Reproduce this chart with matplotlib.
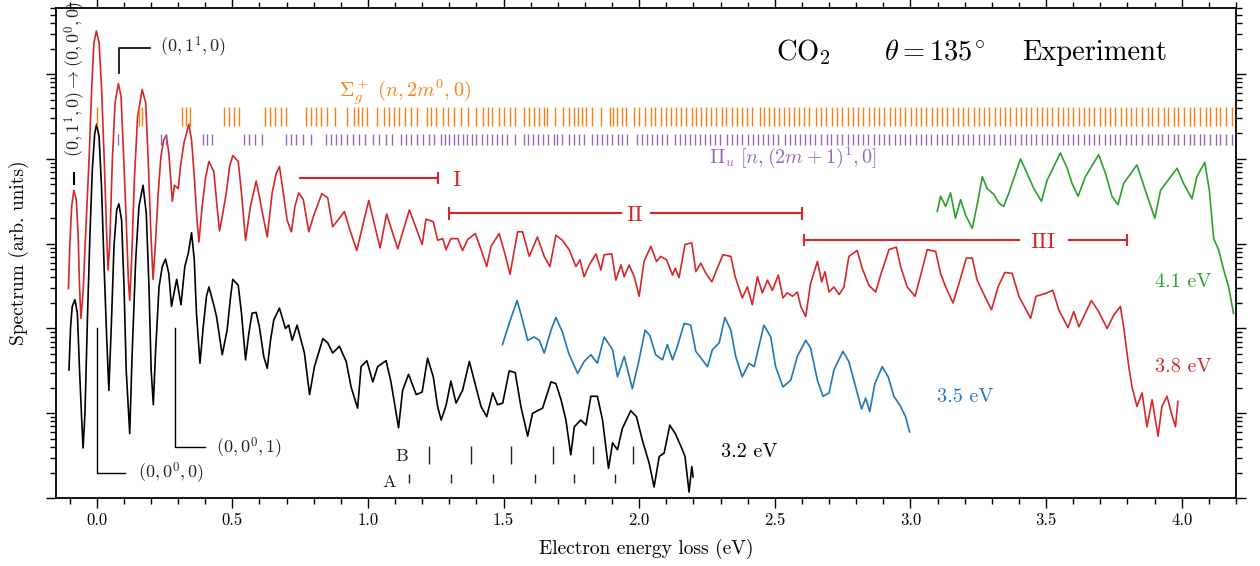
import numpy as np
import matplotlib.pyplot as plt
from matplotlib.ticker import MultipleLocator, LogLocator, NullFormatter

plt.rcParams['font.family'] = 'serif'
plt.rcParams['font.serif'] = ['cmr10']
plt.rcParams['mathtext.fontset'] = 'cm'
plt.rcParams['axes.formatter.use_mathtext'] = True

# spectra: energy loss (eV) and log10 of the spectrum (arb. units)
e32 = [-0.102, -0.096, -0.090, -0.080, -0.071, -0.063, -0.055, -0.050, -0.043, -0.034,
       -0.025, -0.016, -0.007, 0.000, 0.009, 0.018, 0.028, 0.037, 0.045, 0.054,
       0.064, 0.074, 0.082, 0.092, 0.101, 0.109, 0.122, 0.131, 0.144, 0.156,
       0.171, 0.183, 0.193, 0.201, 0.209, 0.217, 0.230, 0.242, 0.254, 0.266,
       0.276, 0.295, 0.311, 0.325, 0.338, 0.350, 0.360, 0.368, 0.381, 0.393,
       0.405, 0.414, 0.430, 0.442, 0.463, 0.481, 0.494, 0.502, 0.522, 0.534,
       0.549, 0.561, 0.573, 0.588, 0.600, 0.616, 0.629, 0.641, 0.653, 0.674,
       0.696, 0.708, 0.721, 0.739,
       0.766, 0.785, 0.803, 0.834, 0.852, 0.870, 0.895, 0.920, 0.938, 0.962,
       0.975, 0.996, 1.018, 1.036, 1.067, 1.085, 1.113, 1.128, 1.150, 1.178,
       1.200, 1.220, 1.241, 1.257, 1.270, 1.288, 1.306, 1.325, 1.349, 1.374,
       1.392, 1.417, 1.438, 1.460, 1.478, 1.497, 1.521, 1.543, 1.564, 1.589,
       1.607, 1.644, 1.675, 1.693, 1.712, 1.730, 1.748, 1.761, 1.785, 1.804,
       1.822, 1.846, 1.865, 1.887, 1.902, 1.920, 1.938, 1.969, 1.990, 2.012,
       2.037, 2.055, 2.074, 2.092, 2.113, 2.133, 2.154, 2.169, 2.184, 2.194,
       2.199]
s32 = [1.51, 2.02, 2.26, 2.34, 2.18, 1.51, 0.92, 0.59, 1.00, 2.10,
       3.08, 3.87, 4.30, 4.41, 4.26, 3.67, 2.69, 1.90, 1.27, 2.02,
       2.97, 3.40, 3.47, 3.28, 2.49, 1.51, 0.76, 1.71, 2.81, 3.44,
       3.69, 3.36, 2.49, 1.51, 1.10, 1.71, 2.49, 2.73, 2.82, 2.65,
       2.26, 2.58, 2.28, 2.73, 2.89, 3.13, 2.81, 2.18, 1.59, 2.02,
       2.38, 2.49, 2.30, 2.14, 1.69, 1.98, 2.38, 2.58, 2.51, 2.18,
       1.63, 1.94, 2.18, 2.19, 2.02, 1.67, 1.53, 1.86, 2.10, 2.24,
       2.00, 2.04, 1.86, 2.04,
       1.71, 1.22, 1.55, 1.88, 1.83, 1.71, 1.79, 1.61, 1.31, 1.06,
       1.55, 1.62, 1.37, 1.55, 1.62, 1.37, 0.83, 1.27, 1.46, 1.22,
       1.25, 1.65, 1.43, 1.08, 0.92, 1.09, 1.38, 1.12, 1.27, 1.61,
       1.39, 1.08, 0.96, 1.24, 1.10, 1.12, 1.50, 1.48, 1.08, 0.73,
       1.00, 1.06, 1.37, 1.35, 1.16, 0.92, 0.51, 0.84, 0.92, 0.86,
       1.20, 1.20, 0.92, 0.35, 0.65, 0.57, 0.82, 1.03, 0.96, 0.68,
       0.41, 0.13, 0.49, 0.53, 0.86, 0.76, 0.61, 0.49, 0.07, 0.37,
       0.25]

e35 = [1.496, 1.521, 1.550, 1.570, 1.589, 1.613, 1.632, 1.650, 1.675, 1.693,
       1.717, 1.740, 1.773, 1.797, 1.822, 1.846, 1.871, 1.902, 1.920, 1.945,
       1.975, 1.997, 2.022, 2.039, 2.061, 2.086, 2.104, 2.123, 2.141, 2.166,
       2.190, 2.209, 2.233, 2.252, 2.270, 2.295, 2.316, 2.338, 2.356, 2.380,
       2.405, 2.424, 2.460, 2.485, 2.503, 2.530, 2.559, 2.583, 2.614, 2.632,
       2.657, 2.678, 2.700, 2.718, 2.751, 2.773, 2.798, 2.820, 2.835, 2.850,
       2.869, 2.896, 2.918, 2.939, 2.964, 2.982, 2.997]
s35 = [1.81, 2.06, 2.33, 2.10, 1.86, 1.90, 1.86, 1.71, 1.98, 2.13,
       1.96, 1.71, 1.47, 1.61, 1.69, 1.59, 1.90, 1.75, 1.43, 1.67,
       1.29, 1.59, 1.98, 1.92, 1.69, 1.63, 1.81, 1.63, 1.79, 2.06,
       2.04, 1.73, 1.63, 1.55, 1.75, 1.83, 2.13, 1.98, 1.67, 1.43,
       1.59, 1.55, 2.04, 1.90, 1.55, 1.31, 1.39, 1.67, 1.86, 1.77,
       1.39, 1.20, 1.24, 1.51, 1.73, 1.61, 1.31, 1.05, 1.18, 1.02,
       1.35, 1.55, 1.43, 1.20, 1.08, 0.96, 0.78]

e38 = [-0.104, -0.099, -0.092, -0.084, -0.075, -0.068, -0.063, -0.058, -0.050, -0.041,
       -0.028, -0.018, -0.010, -0.001, 0.009, 0.018, 0.028, 0.036, 0.042, 0.048,
       0.058, 0.068, 0.080, 0.090, 0.099, 0.109, 0.117, 0.122, 0.129, 0.139,
       0.151, 0.168, 0.181, 0.190, 0.200, 0.208, 0.217, 0.227, 0.237, 0.247,
       0.257, 0.266, 0.274, 0.279, 0.287, 0.301, 0.309, 0.322, 0.340, 0.350,
       0.360, 0.370, 0.377, 0.389, 0.402, 0.414, 0.432, 0.444, 0.453, 0.463,
       0.478, 0.490, 0.502, 0.522, 0.534, 0.549, 0.567, 0.588, 0.600, 0.610,
       0.629, 0.647, 0.662, 0.674, 0.690, 0.702, 0.718, 0.731, 0.745,
       0.762, 0.782, 0.799, 0.830, 0.852, 0.870, 0.895, 0.913, 0.934,
       0.959, 1.003, 1.045, 1.069, 1.110, 1.153, 1.178, 1.200, 1.214, 1.241,
       1.257, 1.276, 1.288, 1.306, 1.331, 1.349, 1.368, 1.396, 1.417, 1.438,
       1.454, 1.484, 1.506, 1.524, 1.552, 1.570, 1.595, 1.625, 1.650, 1.671,
       1.693, 1.717, 1.742, 1.767, 1.782, 1.797, 1.816, 1.841, 1.859, 1.871,
       1.899, 1.914, 1.933, 1.945, 1.963, 1.982, 2.000, 2.018, 2.043, 2.064,
       2.080, 2.101, 2.123, 2.133, 2.147, 2.169, 2.194, 2.209, 2.227, 2.246,
       2.268, 2.288, 2.309, 2.338, 2.354, 2.380, 2.399, 2.417, 2.436, 2.454,
       2.473, 2.491, 2.513, 2.530, 2.546, 2.565, 2.583, 2.596, 2.614, 2.632,
       2.657, 2.673, 2.685, 2.700, 2.718, 2.737, 2.755, 2.773, 2.804, 2.822,
       2.847, 2.872, 2.890, 2.921, 2.948, 2.964, 2.988, 3.017, 3.038, 3.062,
       3.093, 3.111, 3.130, 3.157, 3.179, 3.206, 3.228, 3.246, 3.277, 3.299,
       3.323, 3.348, 3.375, 3.400, 3.443, 3.463, 3.495, 3.525, 3.547, 3.581,
       3.602, 3.621, 3.667, 3.694, 3.725, 3.750, 3.774, 3.786, 3.805, 3.817,
       3.835, 3.854, 3.872, 3.891, 3.913, 3.927, 3.946, 3.962, 3.977, 3.986]
s38 = [2.47, 2.97, 3.44, 3.63, 3.52, 3.08, 2.49, 2.12, 2.42, 3.08,
       3.99, 4.85, 5.37, 5.51, 5.37, 4.85, 3.99, 3.20, 2.69, 2.97,
       3.99, 4.66, 4.89, 4.74, 4.07, 3.28, 2.57, 2.33, 2.81, 3.75,
       4.50, 4.82, 4.66, 3.99, 3.12, 2.58, 3.01, 3.60, 4.03, 4.22,
       4.28, 4.07, 3.71, 3.50, 3.69, 3.65, 3.91, 4.19, 4.41, 4.22,
       3.79, 3.28, 3.02, 3.44, 3.79, 3.97, 3.85, 3.44, 3.15, 3.32,
       3.60, 3.91, 4.04, 3.97, 3.60, 3.04, 3.44, 3.74, 3.56, 3.38,
       3.08, 3.60, 3.83, 3.91, 3.56, 3.28, 3.14, 3.44, 3.60,
       3.52, 3.14, 3.32, 3.59, 3.54, 3.20, 3.30, 3.38, 3.16,
       2.92, 3.51, 2.95, 3.35, 2.94, 3.40, 3.18, 2.99, 3.29, 3.26,
       3.04, 3.06, 2.93, 3.06, 3.06, 2.92, 3.05, 3.12, 2.93, 2.73,
       2.97, 3.12, 2.87, 2.64, 3.14, 3.14, 2.85, 3.08, 2.85, 2.73,
       3.10, 3.04, 2.93, 2.73, 2.81, 2.61, 2.75, 2.88, 2.69, 2.87,
       2.88, 2.57, 2.75, 2.61, 2.75, 2.61, 2.38, 2.79, 2.97, 2.79,
       2.85, 2.81, 2.63, 2.71, 2.60, 2.99, 3.01, 2.67, 2.77, 2.65,
       2.55, 2.71, 2.87, 2.85, 2.61, 2.36, 2.49, 2.28, 2.61, 2.42,
       2.57, 2.45, 2.63, 2.36, 2.42, 2.38, 2.43, 2.26, 2.14, 2.53,
       2.79, 2.55, 2.67, 2.43, 2.49, 2.40, 2.49, 2.85, 2.92, 2.71,
       2.51, 2.43, 2.63, 2.93, 2.96, 2.73, 2.49, 2.38, 2.63, 2.93,
       2.91, 2.65, 2.49, 2.30, 2.53, 2.83, 2.83, 2.57, 2.36, 2.22,
       2.49, 2.66, 2.65, 2.38, 2.12, 2.38, 2.41, 2.45, 2.22, 2.01,
       2.20, 2.02, 2.33, 2.20, 2.00, 2.16, 2.26, 2.02, 1.55, 1.31,
       1.08, 1.24, 0.84, 1.16, 0.73, 1.08, 1.20, 1.00, 0.84, 1.14]

e41 = [3.099, 3.111, 3.130, 3.148, 3.166, 3.185, 3.203, 3.228, 3.246, 3.265,
       3.283, 3.308, 3.326, 3.344, 3.363, 3.406, 3.430, 3.455, 3.483, 3.504,
       3.553, 3.578, 3.596, 3.618, 3.645, 3.694, 3.719, 3.743, 3.765, 3.786,
       3.835, 3.866, 3.901, 3.922, 3.983, 4.007, 4.038, 4.056, 4.085, 4.102,
       4.118, 4.136, 4.155, 4.173, 4.191]
s41 = [3.38, 3.56, 3.44, 3.60, 3.30, 3.52, 3.34, 3.18, 3.46, 3.79,
       3.65, 3.58, 3.48, 3.44, 3.60, 4.00, 3.83, 3.65, 3.50, 3.75,
       4.07, 3.89, 3.71, 3.56, 3.79, 4.05, 3.83, 3.56, 3.46, 3.71,
       3.93, 3.63, 3.30, 3.63, 3.89, 3.71, 3.53, 3.79, 3.96, 3.63,
       3.06, 2.93, 2.69, 2.49, 2.18]

# vibrational levels (eV)
sigma_levels = [0.000, 0.155, 0.168, 0.316, 0.330, 0.346, 0.469, 0.487, 0.506, 0.524,
                0.620, 0.638, 0.657, 0.678, 0.699, 0.772, 0.790, 0.809, 0.827, 0.848,
                0.880, 0.922, 0.947, 0.963, 0.979, 0.996, 1.033, 1.061, 1.077, 1.098,
                1.116, 1.138, 1.159, 1.180, 1.217, 1.233, 1.251, 1.276, 1.294, 1.319,
                1.343, 1.368, 1.398, 1.425, 1.441, 1.459, 1.482, 1.503, 1.524, 1.542,
                1.574, 1.595, 1.613, 1.629, 1.650, 1.662, 1.690, 1.720, 1.742, 1.760,
                1.776, 1.791, 1.803, 1.825, 1.859, 1.892, 1.904, 1.920, 1.936, 1.953,
                1.981, 1.999, 2.022, 2.042, 2.058, 2.080, 2.098, 2.116, 2.135, 2.153,
                2.172, 2.196, 2.209, 2.227, 2.245, 2.264, 2.282, 2.304, 2.319, 2.344,
                2.362, 2.380, 2.399, 2.417, 2.444, 2.460, 2.479, 2.497, 2.515, 2.534,
                2.552, 2.571, 2.589, 2.607, 2.626, 2.651, 2.669, 2.687, 2.712, 2.730,
                2.748, 2.771, 2.790, 2.808, 2.826, 2.848, 2.866, 2.885, 2.903, 2.925,
                2.944, 2.962, 2.981, 3.003, 3.021, 3.040, 3.058, 3.081, 3.099, 3.117,
                3.136, 3.158, 3.176, 3.195, 3.213, 3.236, 3.254, 3.272, 3.291, 3.313,
                3.331, 3.350, 3.368, 3.390, 3.409, 3.427, 3.446, 3.468, 3.486, 3.505,
                3.523, 3.545, 3.564, 3.582, 3.601, 3.623, 3.641, 3.660, 3.678, 3.700,
                3.719, 3.737, 3.756, 3.778, 3.796, 3.815, 3.833, 3.855, 3.874, 3.892,
                3.911, 3.933, 3.951, 3.970, 3.988, 4.010, 4.029, 4.047, 4.066, 4.088,
                4.106, 4.125, 4.143, 4.165, 4.184]
pi_levels = [0.080, 0.239, 0.254, 0.392, 0.408, 0.425, 0.545, 0.563, 0.582, 0.610,
             0.699, 0.717, 0.736, 0.760, 0.791, 0.846, 0.865, 0.883, 0.902, 0.922,
             0.944, 0.966, 0.991, 1.018, 1.042, 1.067, 1.089, 1.122, 1.140, 1.159,
             1.180, 1.202, 1.227, 1.245, 1.270, 1.284, 1.299, 1.317, 1.333, 1.350,
             1.366, 1.384, 1.399, 1.421, 1.440, 1.458, 1.477, 1.495, 1.514, 1.544,
             1.575, 1.591, 1.608, 1.628, 1.645, 1.664, 1.685, 1.697, 1.716, 1.740,
             1.759, 1.777, 1.796, 1.826, 1.845, 1.863, 1.882, 1.900, 1.922, 1.937,
             1.955, 1.992, 2.010, 2.029, 2.047, 2.066, 2.084, 2.102, 2.133, 2.151,
             2.170, 2.188, 2.206, 2.225, 2.243, 2.262, 2.280, 2.298, 2.323, 2.341,
             2.360, 2.378, 2.400, 2.421, 2.439, 2.458, 2.476, 2.494, 2.513, 2.537,
             2.556, 2.574, 2.593, 2.611, 2.630, 2.648, 2.672, 2.691, 2.709, 2.728,
             2.746, 2.770, 2.788, 2.807, 2.825, 2.844, 2.866, 2.884, 2.903, 2.921,
             2.944, 2.962, 2.980, 2.999, 3.021, 3.040, 3.058, 3.077, 3.099, 3.117,
             3.136, 3.154, 3.176, 3.195, 3.213, 3.232, 3.254, 3.272, 3.291, 3.309,
             3.331, 3.350, 3.368, 3.387, 3.409, 3.427, 3.446, 3.464, 3.486, 3.505,
             3.523, 3.542, 3.564, 3.582, 3.601, 3.619, 3.641, 3.660, 3.678, 3.697,
             3.719, 3.737, 3.756, 3.774, 3.796, 3.815, 3.833, 3.852, 3.874, 3.892,
             3.911, 3.929, 3.951, 3.970, 3.988, 4.007, 4.029, 4.047, 4.066, 4.084,
             4.106, 4.125, 4.143, 4.162, 4.184]
series_a = [1.153, 1.308, 1.462, 1.617, 1.761, 1.912]
series_b = [1.227, 1.381, 1.529, 1.683, 1.831, 1.978]

red = '#d62728'
blue = '#1f77b4'
green = '#2ca02c'
orange = '#ff7f0e'
purple = '#9467bd'
grey = '#222222'


def L(d):
    return 10.0 ** np.asarray(d)


fig = plt.figure(figsize=(12.6, 5.66), dpi=100)
ax = fig.add_axes([0.0444, 0.1201, 0.9365, 0.8657])

ax.plot(e32, L(s32), color='black', lw=1.2)
ax.plot(e35, L(s35), color=blue, lw=1.2)
ax.plot(e38, L(s38), color=red, lw=1.2)
ax.plot(e41, L(s41), color=green, lw=1.2)

# level combs
ax.vlines(sigma_levels, L(4.39), L(4.61), color=orange, lw=1.0)
ax.vlines(pi_levels, L(4.165), L(4.29), color=purple, lw=1.0)
ax.text(0.895, L(4.79), r'$\Sigma_g^+\ (n, 2m^0, 0)$', color=orange, fontsize=14.5,
        ha='left', va='center')
ax.text(2.258, L(4.02), r'$\Pi_u\ [n, (2m+1)^1, 0]$', color=purple, fontsize=14.5,
        ha='left', va='center')

# energy ranges I, II, III
ax.plot([0.748, 1.260], L([3.776, 3.776]), color=red, lw=1.5)
ax.vlines([1.260], L(3.70), L(3.85), color=red, lw=1.5)
ax.text(1.325, L(3.752), 'I', color=red, fontsize=16.5, ha='center', va='center')

ax.plot([1.298, 1.932], L([3.36, 3.36]), color=red, lw=1.5)
ax.plot([2.043, 2.599], L([3.36, 3.36]), color=red, lw=1.5)
ax.vlines([1.298, 2.599], L(3.285), L(3.435), color=red, lw=1.5)
ax.text(1.982, L(3.34), 'II', color=red, fontsize=16.5, ha='center', va='center')

ax.plot([2.608, 3.400], L([3.044, 3.044]), color=red, lw=1.5)
ax.plot([3.584, 3.799], L([3.044, 3.044]), color=red, lw=1.5)
ax.vlines([2.608, 3.799], L(2.969), L(3.119), color=red, lw=1.5)
ax.text(3.488, L(3.02), 'III', color=red, fontsize=16.5, ha='center', va='center')

# A / B progressions
ax.vlines(series_b, L(0.40), L(0.614), color=grey, lw=1.0)
ax.vlines(series_a, L(0.173), L(0.283), color=grey, lw=1.0)
ax.text(1.126, L(0.487), 'B', fontsize=13, color=grey, ha='center', va='center')
ax.text(1.077, L(0.19), 'A', fontsize=13, color=grey, ha='center', va='center')

# assignments
ax.plot([0.081, 0.081, 0.195], L([5.015, 5.31, 5.31]), color='black', lw=1.2)
ax.text(0.232, L(5.31), r'$(0, 1^1, 0)$', fontsize=13, color=grey, ha='left', va='center')
ax.plot([0.0, 0.0, 0.103], L([2.0, 0.30, 0.30]), color='black', lw=1.0)
ax.text(0.151, L(0.295), r'$(0, 0^0, 0)$', fontsize=13, color=grey, ha='left', va='center')
ax.plot([0.290, 0.290, 0.400], L([2.0, 0.605, 0.605]), color='black', lw=1.0)
ax.text(0.441, L(0.59), r'$(0, 0^0, 1)$', fontsize=13, color=grey, ha='left', va='center')
ax.vlines([-0.084], L(3.69), L(3.85), color='black', lw=1.5)
ax.text(-0.079, L(4.02), r'$(0, 1^1, 0) \rightarrow (0, 0^0, 0)$', fontsize=13,
        color=grey, rotation=90, ha='center', va='bottom', clip_on=False)

# curve labels
ax.text(2.30, L(0.546), '3.2 eV', color='black', fontsize=14.5, ha='left', va='center')
ax.text(3.099, L(1.188), '3.5 eV', color=blue, fontsize=14.5, ha='left', va='center')
ax.text(3.900, L(1.549), '3.8 eV', color=red, fontsize=14.5, ha='left', va='center')
ax.text(3.900, L(2.552), '4.1 eV', color=green, fontsize=14.5, ha='left', va='center')

# title
ax.text(2.505, L(5.168), r'CO$_2$', fontsize=20.5, ha='left', va='baseline')
ax.text(2.902, L(5.168), r'$\theta = 135^{\!\circ}$', fontsize=20.5, ha='left', va='baseline')
ax.text(3.411, L(5.168), 'Experiment', fontsize=20.5, ha='left', va='baseline')

ax.set_yscale('log')
ax.set_xlim(-0.15, 4.2)
ax.set_ylim(1, L(5.78))
ax.xaxis.set_major_locator(MultipleLocator(0.5))
ax.xaxis.set_minor_locator(MultipleLocator(0.1))
ax.xaxis.set_major_formatter(plt.FuncFormatter(lambda v, p: f'{v:.1f}'))
ax.yaxis.set_major_locator(LogLocator(base=10, numticks=20))
ax.yaxis.set_minor_locator(LogLocator(base=10, subs=np.arange(2, 10), numticks=20))
ax.yaxis.set_major_formatter(NullFormatter())
ax.yaxis.set_minor_formatter(NullFormatter())
ax.tick_params(which='both', direction='out', top=True, right=True, width=1.0)
ax.tick_params(which='major', length=7, labelsize=12)
ax.tick_params(which='minor', length=4)
for sp in ax.spines.values():
    sp.set_linewidth(1.3)

ax.set_xlabel('Electron energy loss (eV)', fontsize=14, labelpad=8)
ax.set_ylabel('Spectrum (arb. units)', fontsize=14, labelpad=9)

fig.savefig('out.png', dpi=100)
